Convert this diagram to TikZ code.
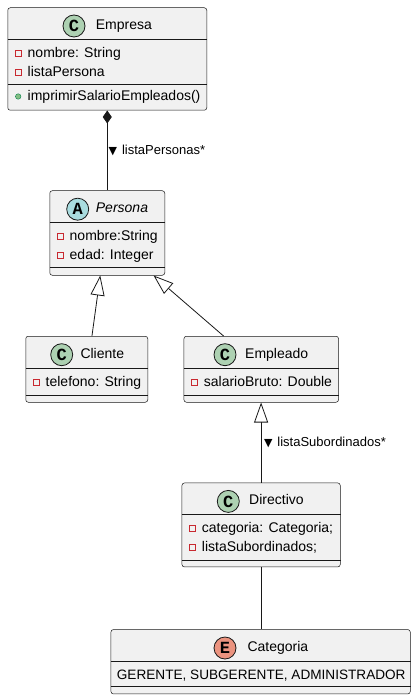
\documentclass[tikz,border=0pt]{standalone}
\usepackage{fontspec}
\setmainfont{Liberation Sans}
\newfontfamily\letterfont{Liberation Mono}
\newfontfamily\symbfont{DejaVu Sans}
\usepackage{tikz}
\usetikzlibrary{arrows.meta}
\usetikzlibrary{positioning}
\definecolor{boxfill}{HTML}{F1F1F1}
\definecolor{inkline}{HTML}{181818}
\definecolor{classball}{HTML}{ADD1B2}
\definecolor{abstractball}{HTML}{A9DCDF}
\definecolor{enumball}{HTML}{EB937F}
\definecolor{privred}{HTML}{C82930}
\definecolor{pubgreen}{HTML}{84BE84}
\definecolor{publine}{HTML}{038048}
\tikzset{classbox/.style = {draw=inkline, line width=0.5pt, fill=boxfill,
                            rounded corners=2.5pt, inner sep=0pt, anchor=north west},
         sepline/.style = {draw=inkline, line width=0.5pt},
         ball/.style = {circle, draw=inkline, line width=0.8pt, minimum size=22pt, inner sep=0pt,
                        font=\letterfont\bfseries\fontsize{17}{17}\selectfont},
         title/.style = {anchor=base west, inner sep=0pt, font=\fontsize{14}{16}\selectfont},
         member/.style = {anchor=base west, inner sep=0pt, font=\fontsize{14}{16}\selectfont},
         privsq/.style = {rectangle, draw=privred, line width=0.7pt, minimum size=6pt, inner sep=0pt},
         pubdot/.style = {circle, fill=pubgreen, draw=publine, line width=0.4pt, minimum size=5.5pt, inner sep=0pt},
         link/.style = {draw=inkline, line width=0.8pt},
         inherit/.style = {link, -{Triangle[width=14pt, length=20pt, fill=white, line width=0.8pt]}},
         compose/.style = {link, {Diamond[width=9pt, length=13pt]}-},
         rolelabel/.style = {inner sep=1pt, font=\fontsize{13}{15}\selectfont}}
\newcommand{\dir}{{\symbfont\fontsize{11}{11}\selectfont ▼}\hspace{5pt}}

\begin{document}
\begin{tikzpicture}[x=1pt, y=-1pt]
  \useasboundingbox (0,0) rectangle (416,700);

  % Empresa
  \node [classbox, minimum width=199pt, minimum height=102.5pt] (empresa) at (7.5,7.5) {};
  \draw [sepline] (empresa.west |- 0,39.3) -- (empresa.east |- 0,39.3);
  \draw [sepline] (empresa.west |- 0,84.3) -- (empresa.east |- 0,84.3);
  \node [ball, fill=classball] (empresa-c) at (74,26) {C};
  \node [title] (empresa-t) at (95.7,29.3) {Empresa};
  \node [privsq] (empresa-s1) at (18.5,53.5) {};
  \node [member] (empresa-a1) at (27.5,57.5) {nombre: String};
  \node [privsq] (empresa-s2) at (18.5,72.5) {};
  \node [member] (empresa-a2) at (27.5,76.5) {listaPersona};
  \node [pubdot] (empresa-d1) at (18.2,96.5) {};
  \node [member] (empresa-m1) at (27.5,101) {imprimirSalarioEmpleados()};

  % Persona
  \node [classbox, minimum width=115pt, minimum height=84.5pt] (persona) at (49.5,190.5) {};
  \draw [sepline] (persona.west |- 0,222.3) -- (persona.east |- 0,222.3);
  \draw [sepline] (persona.west |- 0,267.3) -- (persona.east |- 0,267.3);
  \node [ball, fill=abstractball] (persona-c) at (77.7,209.2) {A};
  \node [title, font=\itshape\fontsize{14}{16}\selectfont] (persona-t) at (95.7,212.5) {Persona};
  \node [privsq] (persona-s1) at (60.5,236.5) {};
  \node [member] (persona-a1) at (69.5,240.5) {nombre:String};
  \node [privsq] (persona-s2) at (60.5,255.5) {};
  \node [member] (persona-a2) at (69.5,259.5) {edad: Integer};

  % Cliente
  \node [classbox, minimum width=122pt, minimum height=66pt] (cliente) at (25.5,336) {};
  \draw [sepline] (cliente.west |- 0,368.3) -- (cliente.east |- 0,368.3);
  \draw [sepline] (cliente.west |- 0,395) -- (cliente.east |- 0,395);
  \node [ball, fill=classball] (cliente-c) at (61.7,354.7) {C};
  \node [title] (cliente-t) at (80.3,358) {Cliente};
  \node [privsq] (cliente-s1) at (36.5,382.5) {};
  \node [member] (cliente-a1) at (45.5,386.5) {telefono: String};

  % Empleado
  \node [classbox, minimum width=154.6pt, minimum height=66pt] (empleado) at (183.7,336) {};
  \draw [sepline] (empleado.west |- 0,368.3) -- (empleado.east |- 0,368.3);
  \draw [sepline] (empleado.west |- 0,395) -- (empleado.east |- 0,395);
  \node [ball, fill=classball] (empleado-c) at (225,354.7) {C};
  \node [title] (empleado-t) at (245,358) {Empleado};
  \node [privsq] (empleado-s1) at (194.7,382.5) {};
  \node [member] (empleado-a1) at (203.7,386.5) {salarioBruto: Double};

  % Directivo
  \node [classbox, minimum width=158.3pt, minimum height=84pt] (directivo) at (181.7,482.7) {};
  \draw [sepline] (directivo.west |- 0,514.3) -- (directivo.east |- 0,514.3);
  \draw [sepline] (directivo.west |- 0,560) -- (directivo.east |- 0,560);
  \node [ball, fill=classball] (directivo-c) at (228.3,501.4) {C};
  \node [title] (directivo-t) at (249,504.7) {Directivo};
  \node [privsq] (directivo-s1) at (192.7,528.5) {};
  \node [member] (directivo-a1) at (201.7,532.5) {categoria: Categoria;};
  \node [privsq] (directivo-s2) at (192.7,547.5) {};
  \node [member] (directivo-a2) at (201.7,551.5) {listaSubordinados;};

  % Categoria
  \node [classbox, minimum width=299.3pt, minimum height=64.4pt] (categoria) at (110.7,629.3) {};
  \draw [sepline] (categoria.west |- 0,661) -- (categoria.east |- 0,661);
  \draw [sepline] (categoria.west |- 0,686.3) -- (categoria.east |- 0,686.3);
  \node [ball, fill=enumball] (categoria-c) at (225,648) {E};
  \node [title] (categoria-t) at (247.3,651.3) {Categoria};
  \node [member, font=\fontsize{13.6}{15}\selectfont] (categoria-v) at (116.7,679) {GERENTE, SUBGERENTE, ADMINISTRADOR};

  % relaciones
  \draw [compose] (empresa.south) -- (persona.north)
        node [right, pos=0.5, rolelabel] (rol-personas) {\dir listaPersonas*};
  \draw [inherit] ([xshift=5.2pt]cliente.north) -- ([xshift=-7pt]persona.south);
  \draw [inherit] ([xshift=-37.7pt]empleado.north) -- ([xshift=46.3pt]persona.south);
  \draw [inherit] (directivo.north) -- (directivo.north |- empleado.south)
        node [right, pos=0.5, rolelabel, xshift=1.5pt] (rol-subordinados) {\dir listaSubordinados*};
  \draw [link] (directivo.south) -- (directivo.south |- categoria.north);
\end{tikzpicture}
\end{document}
